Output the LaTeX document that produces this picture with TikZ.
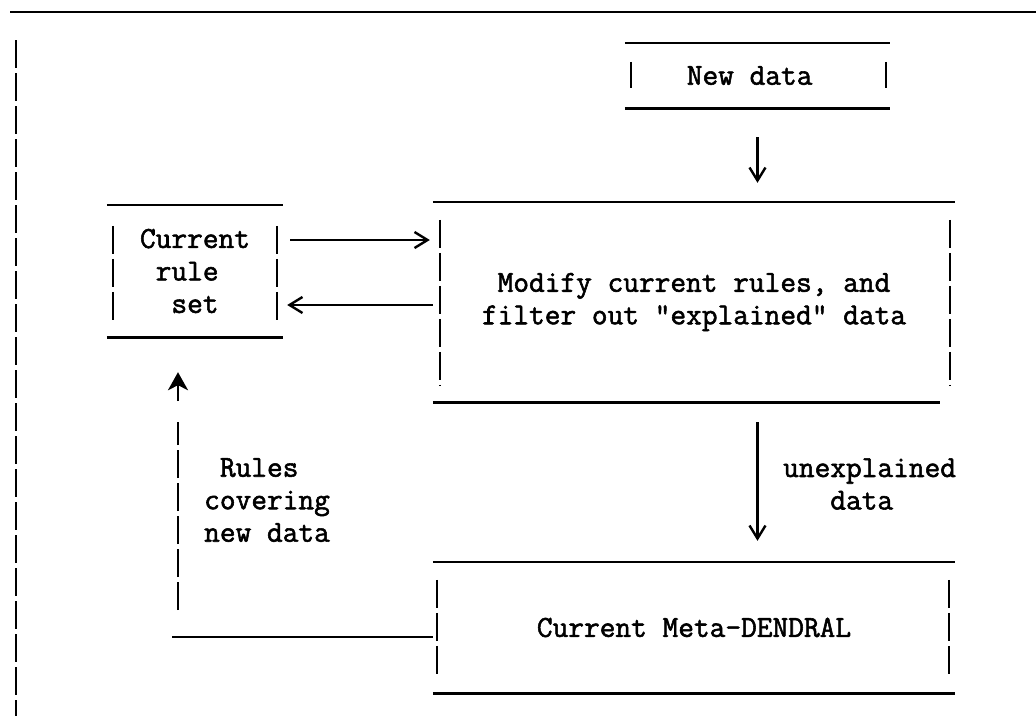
\documentclass[tikz,border=0pt]{standalone}
\usepackage{fontspec}
\newfontfamily\tw[FakeBold=1.8]{Latin Modern Mono}
\usetikzlibrary{arrows.meta,calc}
\begin{document}
\begin{tikzpicture}[x=1pt,y=-1pt,
  hline/.style={line width=2.6pt},
  vbar/.style={line width=2.4pt, dash pattern=on 28pt off 5pt},
  box/.style={rectangle, inner sep=0pt, font=\tw\fontsize{30.5}{32.5}\selectfont, align=center},
  lbl/.style={inner sep=0pt, font=\tw\fontsize{30.5}{32.5}\selectfont, align=left, anchor=west},
  conn/.style={line width=2.4pt, -{Straight Barb[length=13pt,width=16pt,line width=2.4pt]}},
  upconn/.style={line width=2.4pt, -{Stealth[length=18pt,width=20pt,inset=5pt]},
    dash pattern=on 28pt off 5pt on 28pt off 5pt on 28pt off 5pt on 28pt off 5pt on 28pt off 5pt on 23pt off 21pt on 80pt}
]
\useasboundingbox (0,0) rectangle (1036,721);
\fill[white] (0,0) rectangle (1036,721);

% frame
\draw[hline] (10,12) -- (1040,12);
\draw[vbar] (16,40) -- (16,716);

% boxes
\node[box, minimum width=265pt, minimum height=65pt] (nd) at (757.5,75.5) {New data\hphantom{x}};
\node[box, minimum width=176pt, minimum height=132pt, align=left] (rules) at (195,271) {Current\\\hphantom{x}rule\\\hphantom{xx}set};
\node[box, minimum width=522pt, minimum height=200pt] (modify) at (694,302) {Modify current rules, and\\filter out "explained" data};
\node[box, minimum width=522pt, minimum height=131pt] (meta) at (694,627.5) {Current Meta-DENDRAL};

% box borders
\draw[hline] (nd.north west) -- (nd.north east);
\draw[hline] (nd.south west) -- (nd.south east);
\draw[vbar] ([xshift=6pt,yshift=-19pt]nd.north west) -- ([xshift=6pt,yshift=20pt]nd.south west);
\draw[vbar] ([xshift=-4pt,yshift=-19pt]nd.north east) -- ([xshift=-4pt,yshift=20pt]nd.south east);

\draw[hline] (rules.north west) -- (rules.north east);
\draw[hline] (rules.south west) -- (rules.south east);
\draw[vbar] ([xshift=6pt,yshift=-21pt]rules.north west) -- ([xshift=6pt,yshift=17pt]rules.south west);
\draw[vbar] ([xshift=-6pt,yshift=-21pt]rules.north east) -- ([xshift=-6pt,yshift=17pt]rules.south east);

\draw[hline] (modify.north west) -- (modify.north east);
\draw[hline] (modify.south west) -- ([xshift=-15pt]modify.south east);
\draw[vbar] ([xshift=7pt,yshift=-18pt]modify.north west) -- ([xshift=7pt,yshift=17pt]modify.south west);
\draw[vbar] ([xshift=-5pt,yshift=-18pt]modify.north east) -- ([xshift=-5pt,yshift=17pt]modify.south east);

\draw[hline] (meta.north west) -- (meta.north east);
\draw[hline] (meta.south west) -- (meta.south east);
\draw[vbar] ([xshift=4pt,yshift=-18pt]meta.north west) -- ([xshift=4pt,yshift=17pt]meta.south west);
\draw[vbar] ([xshift=-6pt,yshift=-18pt]meta.north east) -- ([xshift=-6pt,yshift=17pt]meta.south east);

% connectors
\draw[conn, shorten <=29pt, shorten >=19pt] (nd.south) -- (nd.south |- modify.north);
\draw[conn, shorten <=20pt, shorten >=21pt] (modify.south -| nd.south) -- (meta.north -| nd.south);

\coordinate (u1) at ([yshift=31pt]rules.east);
\coordinate (l1) at ([yshift=-34pt]rules.east);
\draw[conn, shorten <=7pt, shorten >=3pt] (u1) -- (u1 -| modify.west);
\draw[conn, shorten >=4pt] (l1 -| modify.west) -- (l1);

\coordinate (fb) at ([xshift=-17pt]rules.south);
\coordinate (f0) at ([yshift=-9.5pt]meta.west);
\coordinate (f1) at (f0 -| fb);
\draw[hline] (f0) -- ([xshift=-6pt]f1);
\draw[upconn, shorten <=27pt, shorten >=35pt] (f1) -- (fb);

% labels
\node[lbl] (lr) at (204,500) {\hphantom{x}Rules\\covering\\new data};
\node[lbl] (lu) at (783,484) {unexplained\\\hphantom{xxx}data};
\end{tikzpicture}
\end{document}
